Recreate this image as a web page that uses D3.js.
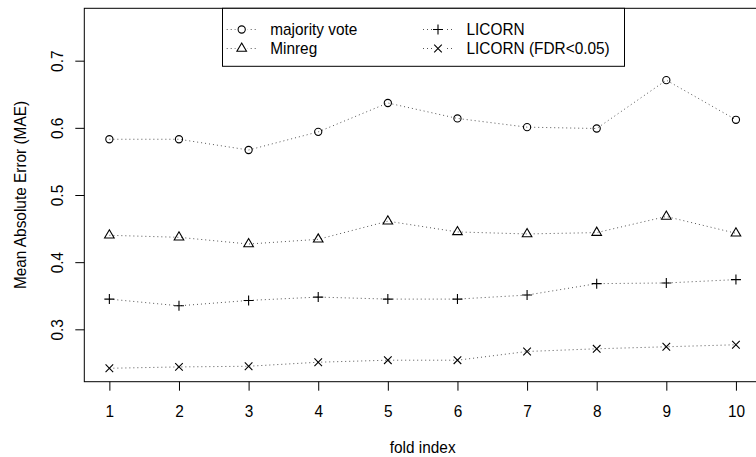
<!DOCTYPE html>
<html><head><meta charset="utf-8">
<script src="https://cdn.jsdelivr.net/npm/d3@7"></script>
<style>
body{margin:0;background:#fff}
text{font-family:"Liberation Sans",Arial,Helvetica,sans-serif;fill:#000}
</style>
</head><body><svg id="c" width="756" height="457"></svg>
<script>
// ---- data ----
const folds = [1,2,3,4,5,6,7,8,9,10];
const majorityVote = [0.583,0.583,0.567,0.594,0.637,0.614,0.601,0.599,0.671,0.612];
const minreg       = [0.440,0.437,0.427,0.434,0.461,0.445,0.442,0.444,0.468,0.443];
const licorn       = [0.345,0.335,0.343,0.348,0.345,0.345,0.351,0.368,0.369,0.374];
const licornFDR    = [0.242,0.244,0.245,0.251,0.254,0.254,0.267,0.271,0.274,0.277];
const seriesNames  = ["majority vote","Minreg","LICORN","LICORN (FDR<0.05)"];
const yTicks = [0.3,0.4,0.5,0.6,0.7];
const xTicks = folds;
const xTitle = "fold index";
const yTitle = "Mean Absolute Error (MAE)";

// ---- layout ----
const svg = d3.select("#c");
const L = 84.3, R = 761, T = 8.3, B = 381.7;
const x = d3.scaleLinear().domain([0.64,10.36]).range([L,R]);
const y = d3.scaleLinear().domain([0.222,0.778]).range([B,T]);
const FS = 16.2, SX = 0.95;

// box
svg.append("rect").attr("x",L).attr("y",T).attr("width",R-L).attr("height",B-T)
  .attr("fill","none").attr("stroke","#000").attr("stroke-width",1);

// x axis
const gx = svg.append("g").attr("transform",`translate(0,${B})`)
  .call(d3.axisBottom(x).tickValues(xTicks).tickSize(9).tickSizeOuter(0).tickFormat(d3.format("d")));
gx.select(".domain").remove();
gx.selectAll(".tick line").attr("stroke","#000");
gx.selectAll(".tick text").attr("x",0).attr("y",0).attr("dy",0)
  .attr("transform",`translate(0,34.8) scale(${SX},1)`).attr("font-size",FS)
  .style("font-family",'"Liberation Sans",Arial,sans-serif');

// y axis
const gy = svg.append("g").attr("transform",`translate(${L},0)`)
  .call(d3.axisLeft(y).tickValues(yTicks).tickSize(9).tickSizeOuter(0).tickFormat(d3.format(".1f")));
gy.select(".domain").remove();
gy.selectAll(".tick line").attr("stroke","#000");
gy.selectAll(".tick text").attr("x",0).attr("y",0).attr("dy",0)
  .attr("text-anchor","middle").attr("transform",`translate(-21.3,0) rotate(-90) scale(${SX},1)`)
  .attr("font-size",FS).style("font-family",'"Liberation Sans",Arial,sans-serif');

// titles
svg.append("text").attr("transform",`translate(${(L+R)/2},452.5) scale(${SX},1)`).attr("text-anchor","middle")
  .attr("font-size",FS).text(xTitle);
svg.append("text").attr("transform",`translate(26,${(T+B)/2}) rotate(-90) scale(${SX},1)`)
  .attr("text-anchor","middle").attr("font-size",FS).text(yTitle);

// series
const series = [
  {name:seriesNames[0], values:majorityVote, sym:"circle"},
  {name:seriesNames[1], values:minreg, sym:"triangle"},
  {name:seriesNames[2], values:licorn, sym:"plus"},
  {name:seriesNames[3], values:licornFDR, sym:"cross"}
];

function drawSym(g, type, cx, cy){
  if(type==="circle"){
    g.append("circle").attr("cx",cx).attr("cy",cy).attr("r",3.6)
      .attr("fill","none").attr("stroke","#000").attr("stroke-width",1.1);
  } else if(type==="triangle"){
    const h=8.2, w=9.6;
    g.append("path").attr("d",`M${cx},${cy-h*2/3}L${cx+w/2},${cy+h/3}L${cx-w/2},${cy+h/3}Z`)
      .attr("fill","none").attr("stroke","#000").attr("stroke-width",1.1);
  } else if(type==="plus"){
    const s=5;
    g.append("path").attr("d",`M${cx-s},${cy}H${cx+s}M${cx},${cy-s}V${cy+s}`)
      .attr("stroke","#000").attr("stroke-width",1.1);
  } else {
    const s=3.8;
    g.append("path").attr("d",`M${cx-s},${cy-s}L${cx+s},${cy+s}M${cx-s},${cy+s}L${cx+s},${cy-s}`)
      .attr("stroke","#000").attr("stroke-width",1.1);
  }
}

const line = d3.line().x((d,i)=>x(folds[i])).y(d=>y(d));
series.forEach(s=>{
  svg.append("path").attr("d",line(s.values)).attr("fill","none")
    .attr("stroke","#555").attr("stroke-width",1).attr("stroke-dasharray","1,3");
  const g = svg.append("g");
  s.values.forEach((v,i)=>drawSym(g,s.sym,x(folds[i]),y(v)));
});

// legend
const lg = svg.append("g");
lg.append("rect").attr("x",222.5).attr("y",T).attr("width",402).attr("height",58)
  .attr("fill","#fff").attr("stroke","#000").attr("stroke-width",1);
const legPos = [[241.7,29.5],[241.7,48.5],[438,29.5],[438,48.5]];
series.forEach((s,i)=>{
  const [cx,cy]=legPos[i];
  lg.append("path").attr("d",`M${cx-15},${cy}H${cx+15}`).attr("stroke","#555")
    .attr("stroke-width",1).attr("stroke-dasharray","1,3");
  lg.append("rect").attr("x",cx-6).attr("y",cy-6).attr("width",12).attr("height",12).attr("fill","#fff");
  drawSym(lg,s.sym,cx,cy);
  lg.append("text").attr("transform",`translate(${cx+28.5},${cy+5.8}) scale(${SX},1)`)
    .attr("font-size",FS).text(s.name);
});
</script></body></html>
